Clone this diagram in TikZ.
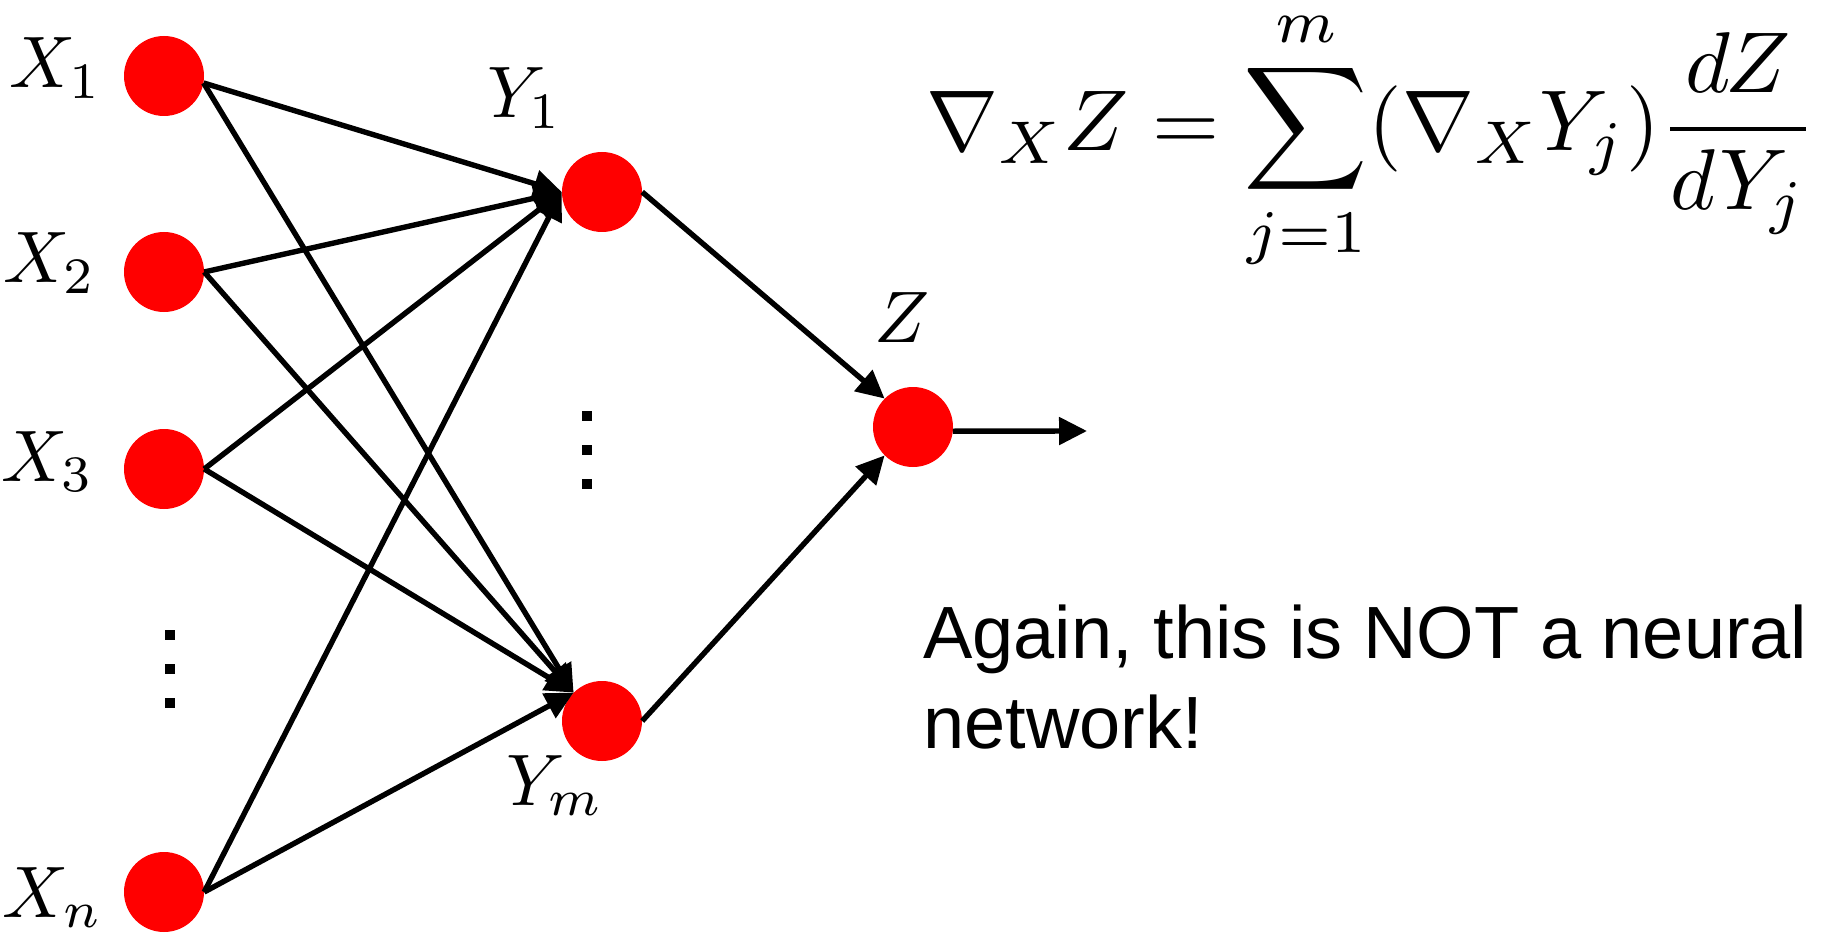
\documentclass[tikz,border=0pt]{standalone}
\usepackage{graphicx}
\usepackage{fontspec}
\newfontfamily\arialfont{Liberation Sans}
\usetikzlibrary{arrows.meta}
\newcommand{\labsc}[1]{\scalebox{7.3}{$#1$}}
\tikzset{
  neuron/.style={circle, fill=red, draw=none, minimum size=80pt, inner sep=0pt},
  lab/.style={inner sep=0pt},
  sq/.style={rectangle, fill=black, draw=none, minimum size=10pt, inner sep=0pt},
  arr/.style={line width=5.4pt, -{Triangle[length=28pt,width=27pt]}},
  txt/.style={inner sep=0pt, anchor=base west, font=\arialfont\fontsize{74}{90}\selectfont}
}
\begin{document}
\begin{tikzpicture}[x=1pt,y=-1pt]
\useasboundingbox (0,0) rectangle (1833,941);
% neurons
\node[neuron] (X1) at (164,76) {};
\node[neuron] (X2) at (164,272) {};
\node[neuron] (X3) at (164,469) {};
\node[neuron] (Xn) at (164,892) {};
\node[neuron] (Y1) at (602,192) {};
\node[neuron] (Ym) at (602,721) {};
\node[neuron] (Z) at (913,427) {};
\coordinate (out) at (1087,431);
% labels
\node[lab, anchor=base] (lX1) at (56,88) {\labsc{X_1}};
\node[lab, anchor=base] (lX2) at (50,283) {\labsc{X_2}};
\node[lab, anchor=base] (lX3) at (48,481) {\labsc{X_3}};
\node[lab, anchor=base] (lXn) at (53,917) {\labsc{X_n}};
\node[lab, anchor=base] (lY1) at (525,118) {\labsc{Y_1}};
\node[lab, anchor=base] (lYm) at (555,805) {\labsc{Y_m}};
\node[lab, anchor=base] (lZ) at (902,342) {\labsc{Z}};
% vertical dots
\node[sq] (dl1) at (170,635) {};
\node[sq] (dl2) at (170,669) {};
\node[sq] (dl3) at (170,703) {};
\node[sq] (dr1) at (587,416) {};
\node[sq] (dr2) at (587,450) {};
\node[sq] (dr3) at (587,484) {};
% connectors
\draw[arr] (X1.-10) -- (Y1.west);
\draw[arr] (X1.-10) -- (Ym.north west);
\draw[arr] (X2.east) -- (Y1.west);
\draw[arr] (X2.east) -- (Ym.north west);
\draw[arr] (X3.east) -- (Y1.west);
\draw[arr] (X3.east) -- (Ym.north west);
\draw[arr] (Xn.east) -- (Y1.west);
\draw[arr] (Xn.east) -- (Ym.north west);
\draw[arr] (Y1.east) -- (Z.north west);
\draw[arr] (Ym.east) -- (Z.south west);
\draw[arr] (Z.-6) -- (out);
% formula
\node[inner sep=0pt, anchor=north west] (eq) at (926,8)
  {\resizebox{890pt}{!}{$\displaystyle \nabla_X Z = \sum_{j=1}^{m} (\nabla_X Y_j)\frac{dZ}{dY_j}$}};
% text
\node[txt] (t1) at (923,658) {Again, this is NOT a neural};
\node[txt] (t2) at (923,748) {network!};
\end{tikzpicture}
\end{document}
